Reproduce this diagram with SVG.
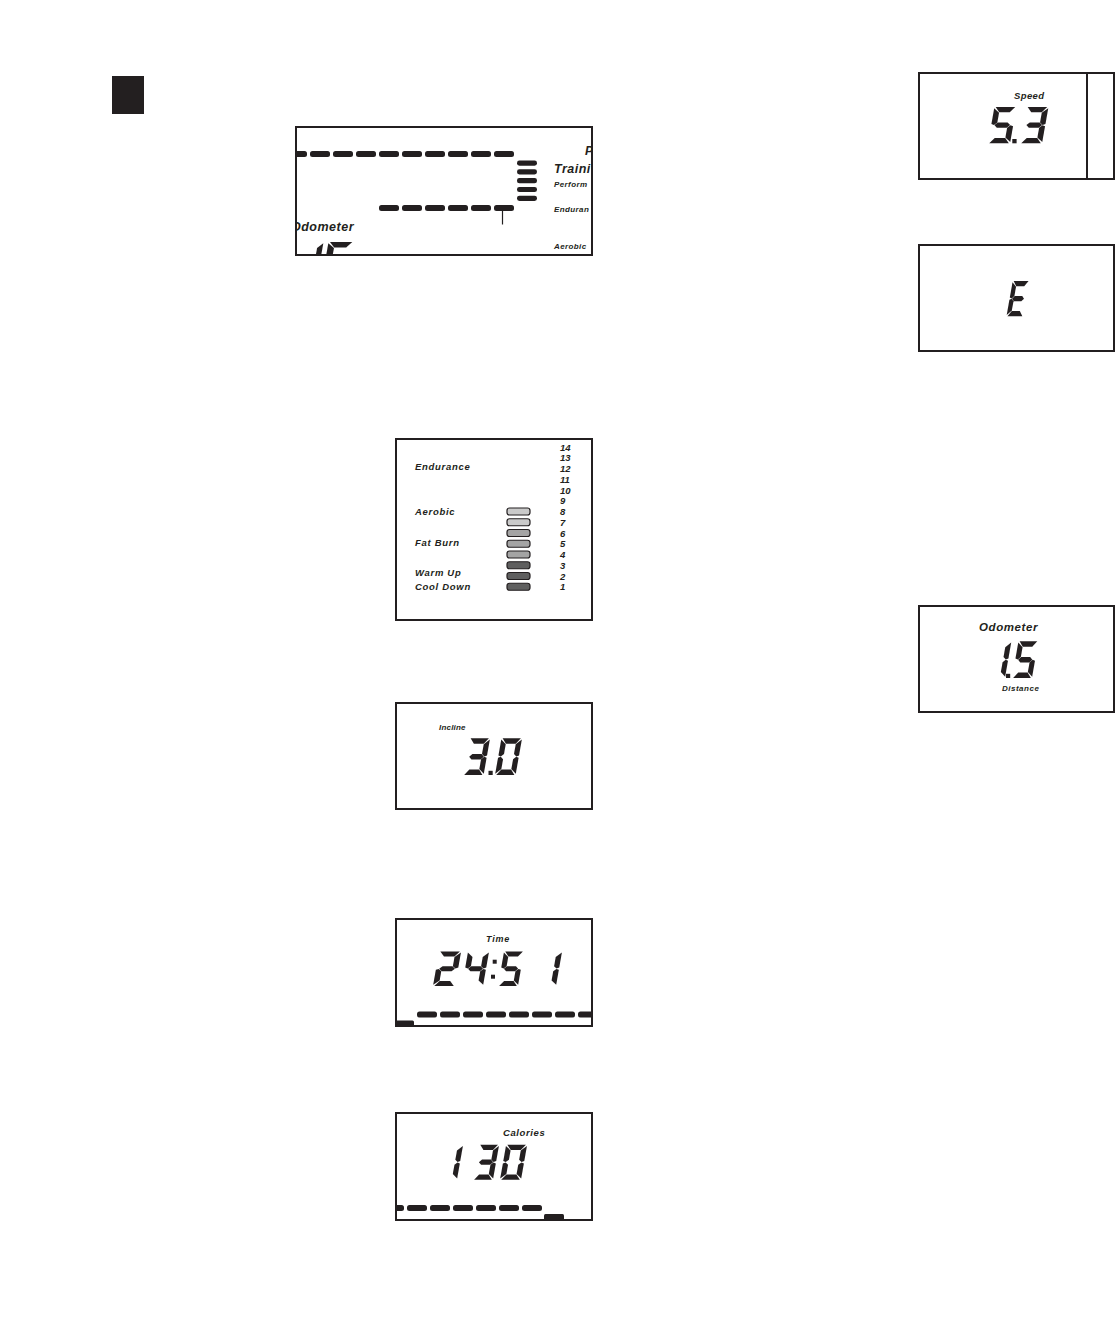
<svg xmlns="http://www.w3.org/2000/svg" width="1116" height="1325" viewBox="0 0 1116 1325">
<style>
.box{fill:#fff;stroke:#231f20;stroke-width:2}
.lbl{font-family:"Liberation Sans",Arial,sans-serif;font-weight:bold;font-style:italic;fill:#231f20}
.dash{fill:#231f20}
.dig{fill:#231f20}
.bar{stroke:#231f20;stroke-width:1.2}
</style>
<defs>
<polygon id="sa" points="1.2,0 19.8,0 15.5,5.3 5.5,5.3"/>
<polygon id="sb" points="21,1.2 21,16.8 18.4,17.8 15.6,15.4 15.6,5.8"/>
<polygon id="sc" points="21,19.2 21,34.8 15.6,30.2 15.6,20.6 18.4,18.2"/>
<polygon id="sd" points="5.5,30.7 15.5,30.7 19.8,36 1.2,36"/>
<polygon id="se" points="0,19.2 2.6,18.2 5.4,20.6 5.4,30.2 0,34.8"/>
<polygon id="sf" points="0,1.2 5.4,5.8 5.4,15.4 2.6,17.8 0,16.8"/>
<polygon id="sg" points="3,18 5.8,15.3 15.2,15.3 18,18 15.2,20.7 5.8,20.7"/>
<g id="d0"><use href="#sa"/><use href="#sb"/><use href="#sc"/><use href="#sd"/><use href="#se"/><use href="#sf"/></g>
<g id="d1"><use href="#sb"/><use href="#sc"/></g>
<g id="d2"><use href="#sa"/><use href="#sb"/><use href="#sg"/><use href="#se"/><use href="#sd"/></g>
<g id="d3"><use href="#sa"/><use href="#sb"/><use href="#sg"/><use href="#sc"/><use href="#sd"/></g>
<g id="d4"><use href="#sf"/><use href="#sg"/><use href="#sb"/><use href="#sc"/></g>
<g id="d5"><use href="#sa"/><use href="#sf"/><use href="#sg"/><use href="#sc"/><use href="#sd"/></g>
<g id="dE"><use href="#sa"/><use href="#sf"/><use href="#sg"/><use href="#se"/><use href="#sd"/></g>
<rect id="dash" width="20" height="6" rx="2.5"/>
<clipPath id="clipMain"><rect x="297" y="128" width="294" height="126"/></clipPath>
<clipPath id="clipTime"><rect x="397" y="920" width="194" height="105"/></clipPath>
<clipPath id="clipCal"><rect x="397" y="1114" width="194" height="105"/></clipPath>
</defs>

<rect id="marker-square" x="112" y="76" width="32" height="38" fill="#231f20"/>

<g id="main-display">
<rect class="box" x="296" y="127" width="296" height="128"/>
<g clip-path="url(#clipMain)">
<g class="dash">
<use href="#dash" x="287" y="151"/><use href="#dash" x="310" y="151"/><use href="#dash" x="333" y="151"/><use href="#dash" x="356" y="151"/><use href="#dash" x="379" y="151"/><use href="#dash" x="402" y="151"/><use href="#dash" x="425" y="151"/><use href="#dash" x="448" y="151"/><use href="#dash" x="471" y="151"/><use href="#dash" x="494" y="151"/>
<rect x="517" y="160.5" width="20" height="5.2" rx="2.4"/>
<rect x="517" y="169.3" width="20" height="5.2" rx="2.4"/>
<rect x="517" y="178.1" width="20" height="5.2" rx="2.4"/>
<rect x="517" y="186.9" width="20" height="5.2" rx="2.4"/>
<rect x="517" y="195.7" width="20" height="5.2" rx="2.4"/>
<use href="#dash" x="379" y="205"/><use href="#dash" x="402" y="205"/><use href="#dash" x="425" y="205"/><use href="#dash" x="448" y="205"/><use href="#dash" x="471" y="205"/><use href="#dash" x="494" y="205"/>
</g>
<line x1="502.5" y1="211" x2="502.5" y2="224.5" stroke="#231f20" stroke-width="1.2"/>
<text class="lbl" x="585" y="155" font-size="12">P</text>
<text class="lbl" x="554" y="173" font-size="12.5" letter-spacing="0.5">Traini</text>
<text class="lbl" x="554" y="187" font-size="8" letter-spacing="0.4">Perform</text>
<text class="lbl" x="554" y="212" font-size="8" letter-spacing="0.4">Enduran</text>
<text class="lbl" x="554" y="249" font-size="8" letter-spacing="0.4">Aerobic</text>
<text class="lbl" x="291" y="231" font-size="12.5" letter-spacing="0.5">Odometer</text>
<use class="dig" href="#d1" transform="translate(296,279) skewX(-10) scale(1,1.03) translate(0,-36)"/>
<use class="dig" href="#d5" transform="translate(322,279) skewX(-10) scale(1.2,1.03) translate(0,-36)"/>
</g>
</g>

<g id="speed-display">
<rect class="box" x="919" y="73" width="195" height="106"/>
<line x1="1087" y1="73" x2="1087" y2="179" stroke="#231f20" stroke-width="2"/>
<text class="lbl" x="1014" y="99" font-size="9.5" letter-spacing="0.4">Speed</text>
<use class="dig" href="#d5" transform="translate(988,143.3) skewX(-10) scale(1.05,1.01) translate(0,-36)"/>
<rect class="dig" x="1012.3" y="139" width="4.3" height="4.3"/>
<use class="dig" href="#d3" transform="translate(1020,143.3) skewX(-10) scale(1.05,1.01) translate(0,-36)"/>
</g>

<g id="error-display">
<rect class="box" x="919" y="245" width="195" height="106"/>
<use class="dig" href="#dE" transform="translate(1006.5,316.3) skewX(-10) scale(0.8,0.98) translate(0,-36)"/>
</g>

<g id="heart-zones">
<rect class="box" x="396" y="439" width="196" height="181"/>
<g class="lbl" font-size="9.5" letter-spacing="0.7">
<text x="415" y="470.3">Endurance</text>
<text x="415" y="514.5">Aerobic</text>
<text x="415" y="545.5">Fat Burn</text>
<text x="415" y="575.5">Warm Up</text>
<text x="415" y="590">Cool Down</text>
</g>
<g class="lbl" font-size="9.5">
<text x="560" y="450.5">14</text>
<text x="560" y="461.25">13</text>
<text x="560" y="472">12</text>
<text x="560" y="482.75">11</text>
<text x="560" y="493.5">10</text>
<text x="560" y="504.25">9</text>
<text x="560" y="515">8</text>
<text x="560" y="525.75">7</text>
<text x="560" y="536.5">6</text>
<text x="560" y="547.25">5</text>
<text x="560" y="558">4</text>
<text x="560" y="568.75">3</text>
<text x="560" y="579.5">2</text>
<text x="560" y="590.25">1</text>
</g>
<rect class="bar" x="507" y="508" width="23" height="7" rx="2.5" fill="#cacaca"/>
<rect class="bar" x="507" y="518.75" width="23" height="7" rx="2.5" fill="#cacaca"/>
<rect class="bar" x="507" y="529.5" width="23" height="7" rx="2.5" fill="#a4a4a4"/>
<rect class="bar" x="507" y="540.25" width="23" height="7" rx="2.5" fill="#a4a4a4"/>
<rect class="bar" x="507" y="551" width="23" height="7" rx="2.5" fill="#a4a4a4"/>
<rect class="bar" x="507" y="561.75" width="23" height="7" rx="2.5" fill="#5f5f5f"/>
<rect class="bar" x="507" y="572.5" width="23" height="7" rx="2.5" fill="#5f5f5f"/>
<rect class="bar" x="507" y="583.25" width="23" height="7" rx="2.5" fill="#5f5f5f"/>
</g>

<g id="incline-display">
<rect class="box" x="396" y="703" width="196" height="106"/>
<text class="lbl" x="439" y="729.5" font-size="8" letter-spacing="0.2">Incline</text>
<use class="dig" href="#d3" transform="translate(463,775) skewX(-10) scale(0.98,1.02) translate(0,-36)"/>
<rect class="dig" x="488.5" y="770.8" width="4.2" height="4.2"/>
<use class="dig" href="#d0" transform="translate(495,775) skewX(-10) scale(0.98,1.02) translate(0,-36)"/>
</g>

<g id="odometer-display">
<rect class="box" x="919" y="606" width="195" height="106"/>
<text class="lbl" x="979" y="630.5" font-size="11.5" letter-spacing="0.6">Odometer</text>
<use class="dig" href="#d1" transform="translate(985,678) skewX(-10) scale(0.95,1.02) translate(0,-36)"/>
<rect class="dig" x="1006" y="673.8" width="4.2" height="4.2"/>
<use class="dig" href="#d5" transform="translate(1012,678) skewX(-10) scale(0.95,1.02) translate(0,-36)"/>
<text class="lbl" x="1002" y="691" font-size="8" letter-spacing="0.5">Distance</text>
</g>

<g id="time-display">
<rect class="box" x="396" y="919" width="196" height="107"/>
<text class="lbl" x="486" y="941.5" font-size="9" letter-spacing="0.8">Time</text>
<use class="dig" href="#d2" transform="translate(433,986) skewX(-10) scale(1.05,0.96) translate(0,-36)"/>
<use class="dig" href="#d4" transform="translate(462,986) skewX(-10) scale(1,0.96) translate(0,-36)"/>
<rect class="dig" x="492.7" y="959.7" width="4" height="4"/>
<rect class="dig" x="491" y="974.7" width="4" height="4"/>
<use class="dig" href="#d5" transform="translate(498,986) skewX(-10) scale(0.95,0.96) translate(0,-36)"/>
<use class="dig" href="#d1" transform="translate(535,986) skewX(-10) scale(1,0.96) translate(0,-36)"/>
<g class="dash" clip-path="url(#clipTime)">
<use href="#dash" x="417" y="1011.5"/><use href="#dash" x="440" y="1011.5"/><use href="#dash" x="463" y="1011.5"/><use href="#dash" x="486" y="1011.5"/><use href="#dash" x="509" y="1011.5"/><use href="#dash" x="532" y="1011.5"/><use href="#dash" x="555" y="1011.5"/><use href="#dash" x="578" y="1011.5"/>
<rect x="395" y="1020.5" width="19" height="6" rx="1.5"/>
</g>
</g>

<g id="calories-display">
<rect class="box" x="396" y="1113" width="196" height="107"/>
<text class="lbl" x="503" y="1135.5" font-size="9.5" letter-spacing="0.6">Calories</text>
<use class="dig" href="#d1" transform="translate(437,1179.7) skewX(-10) scale(0.95,0.97) translate(0,-36)"/>
<use class="dig" href="#d3" transform="translate(473,1179.7) skewX(-10) scale(0.95,0.97) translate(0,-36)"/>
<use class="dig" href="#d0" transform="translate(500,1179.7) skewX(-10) scale(1,0.97) translate(0,-36)"/>
<g class="dash" clip-path="url(#clipCal)">
<use href="#dash" x="384" y="1205"/><use href="#dash" x="407" y="1205"/><use href="#dash" x="430" y="1205"/><use href="#dash" x="453" y="1205"/><use href="#dash" x="476" y="1205"/><use href="#dash" x="499" y="1205"/><use href="#dash" x="522" y="1205"/>
<rect x="544" y="1214" width="20" height="6" rx="1.5"/>
</g>
</g>

<g id="connectors"></g>
</svg>
